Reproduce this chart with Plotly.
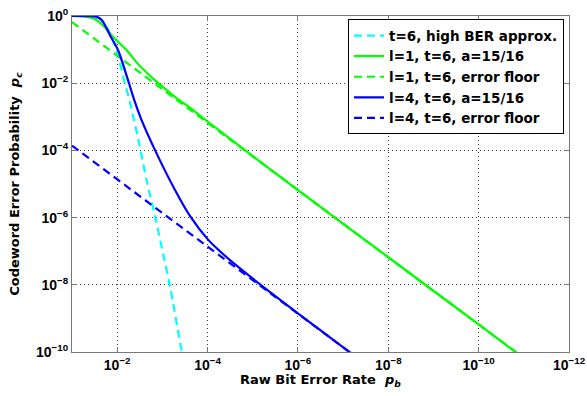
import numpy as np
import plotly.graph_objects as go

# values, as log10 exponents
cyan_log_pb = [-1.0, -1.5, -1.65, -1.8, -1.95, -2.06, -2.16, -2.28, -2.47, -2.65, -2.84, -3.02, -3.17, -3.43, -3.5]
cyan_log_pc = [0.0, -0.01, -0.1, -0.4, -0.9, -1.4, -1.95, -2.55, -3.69, -4.88, -5.97, -7.1, -8.05, -10.0, -10.5]

green_log_pb = [-1.0, -1.3, -1.5, -1.7, -1.84, -2.0, -2.21, -2.43, -2.65, -2.91, -3.32, -3.65, -4.0, -5.0, -6.0, -8.0, -10.0, -11.0]
green_log_pc = [0.0, -0.02, -0.09, -0.3, -0.52, -0.74, -1.02, -1.38, -1.68, -2.0, -2.45, -2.77, -3.14, -4.17, -5.18, -7.18, -9.18, -10.18]

green_floor_log_pb = [-1.0, -11.0]
green_floor_log_pc = [-0.18, -10.18]

blue_log_pb = [-1.0, -1.4, -1.5, -1.6, -1.69, -1.84, -2.02, -2.21, -2.39, -2.54, -2.84, -3.28, -3.61, -4.02, -4.3, -4.57, -5.27, -6.0, -7.2]
blue_log_pc = [0.0, -0.003, -0.01, -0.06, -0.18, -0.57, -1.02, -1.78, -2.55, -3.10, -4.0, -5.18, -5.95, -6.67, -7.03, -7.35, -8.10, -8.85, -10.06]

blue_floor_log_pb = [-1.0, -7.5]
blue_floor_log_pc = [-3.86, -10.36]

x_tick_exps = [-2, -4, -6, -8, -10, -12]
y_tick_exps = [0, -2, -4, -6, -8, -10]

names = ["t=6, high BER approx.", "l=1, t=6, a=15/16", "l=1, t=6, error floor",
         "l=4, t=6, a=15/16", "l=4, t=6, error floor"]

def p(v):
    return np.power(10.0, np.array(v, dtype=float))

fig = go.Figure()
dash = "8px,5px"
series = [
    (cyan_log_pb, cyan_log_pc, "#00FFFF", dash, True),
    (green_log_pb, green_log_pc, "#00FF00", "solid", True),
    (green_floor_log_pb, green_floor_log_pc, "#00FF00", dash, False),
    (blue_log_pb, blue_log_pc, "#0000FF", "solid", True),
    (blue_floor_log_pb, blue_floor_log_pc, "#0000FF", dash, False),
]
for (xs, ys, col, dsh, smooth), nm in zip(series, names):
    fig.add_trace(go.Scatter(
        x=p(xs), y=p(ys), mode="lines", name=nm,
        line=dict(color=col, width=2.2, dash=dsh,
                  shape="spline" if smooth else "linear", smoothing=0.8),
    ))

tick_family = "Liberation Sans, Arial, sans-serif"
text_family = "DejaVu Sans, Liberation Sans, sans-serif"
axis_common = dict(
    type="log", showgrid=True, gridcolor="rgb(60,60,60)", griddash="1px,3px", gridwidth=1,
    showline=True, linecolor="rgb(120,120,120)", linewidth=1, mirror="ticks",
    ticks="inside", ticklen=5, tickcolor="rgb(120,120,120)",
    exponentformat="power", zeroline=False, automargin=False,
    tickfont=dict(family=tick_family, size=14, color="black", weight="bold"),
)
fig.update_xaxes(**axis_common, range=[-1, -12],
                 tickvals=list(p(x_tick_exps)),
                 ticktext=[f"10<sup>\u2212{abs(e)}</sup>" for e in x_tick_exps])
fig.update_yaxes(**axis_common, range=[-10, 0],
                 tickvals=list(p(y_tick_exps)),
                 ticktext=[f"10<sup>{'\u2212' if e < 0 else ''}{abs(e)}</sup>" for e in y_tick_exps])

fig.update_layout(
    width=587, height=396,
    margin=dict(l=72, r=18, t=16, b=44),
    paper_bgcolor="white", plot_bgcolor="white",
    font=dict(family=text_family, color="black"),
    legend=dict(x=0.99, y=0.99, xanchor="right", yanchor="top",
                bgcolor="white", bordercolor="black", borderwidth=1,
                font=dict(family=text_family, size=13.5, color="black", weight="bold"),
                tracegroupgap=0, itemwidth=30),
    showlegend=True,
    annotations=[
        dict(text="Raw Bit Error Rate  <i>p<sub>b</sub></i>", xref="paper", yref="paper",
             x=0.5, y=-0.085, xanchor="center", yanchor="middle", showarrow=False,
             font=dict(family=text_family, size=13, color="black", weight="bold")),
        dict(text="Codeword Error Probability  <i>p<sub>c</sub></i>", xref="paper", yref="paper",
             x=-0.115, y=0.5, xanchor="center", yanchor="middle", textangle=-90, showarrow=False,
             font=dict(family=text_family, size=13, color="black", weight="bold")),
    ],
)

fig.write_html("out.html", config={"displayModeBar": False},
               post_script="document.body.style.margin='0';")
